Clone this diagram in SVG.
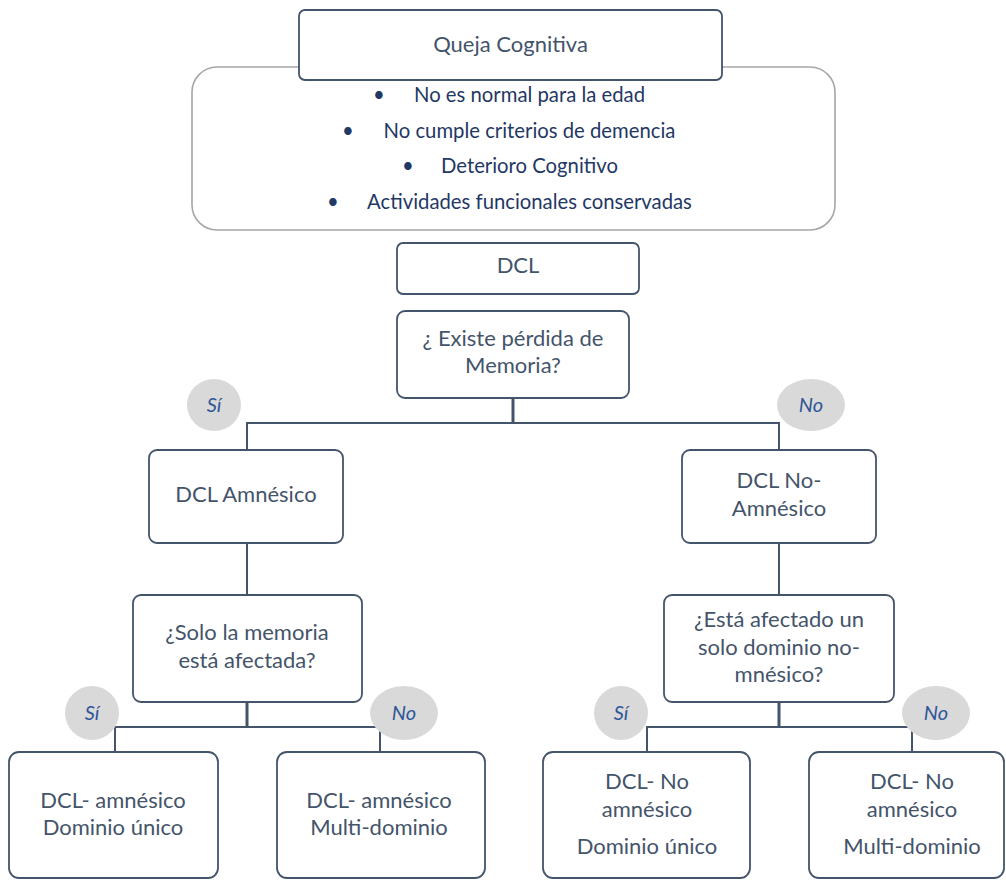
<svg xmlns="http://www.w3.org/2000/svg" width="1006" height="880" viewBox="0 0 1006 880">
<style>
.box{fill:#fff;stroke:#44546A;stroke-width:1.8}
.big{fill:#fff;stroke:#A6A6A6;stroke-width:1.6}
.t{font-family:Lato,"Liberation Sans",sans-serif;font-size:22px;fill:#44546A;text-anchor:middle}
.b{font-family:Lato,"Liberation Sans",sans-serif;font-size:20.3px;fill:#1F3864;text-anchor:middle}
.lab{fill:#D9D9D9}
.lt{font-family:Lato,"Liberation Sans",sans-serif;font-size:20px;font-style:italic;fill:#2F5597;text-anchor:middle}
.c{fill:none;stroke:#44546A;stroke-width:2}
.s{fill:none;stroke:#44546A;stroke-width:3}
</style>
<g id="criterios">
<rect class="big" x="192" y="67" width="643" height="163" rx="25"/>
<text class="b" x="379" y="102">•</text><text class="b" x="529.5" y="102">No es normal para la edad</text>
<text class="b" x="348" y="138">•</text><text class="b" x="529.5" y="138">No cumple criterios de demencia</text>
<text class="b" x="408" y="173">•</text><text class="b" x="529.5" y="173">Deterioro Cognitivo</text>
<text class="b" x="333" y="209">•</text><text class="b" x="529.5" y="209">Actividades funcionales conservadas</text>
</g>
<g id="queja">
<rect class="box" x="299" y="10" width="423" height="70" rx="6"/>
<text class="t" x="510.5" y="52">Queja Cognitiva</text>
</g>
<g id="dcl">
<rect class="box" x="397" y="243" width="242" height="51" rx="6"/>
<text class="t" x="518" y="273">DCL</text>
</g>
<g id="pregunta1">
<rect class="box" x="397" y="311" width="232" height="87" rx="8"/>
<text class="t" x="513" y="346">¿ Existe pérdida de</text>
<text class="t" x="513" y="373">Memoria?</text>
</g>
<g id="amnesico">
<rect class="box" x="149" y="450" width="194" height="93" rx="8"/>
<text class="t" x="246" y="502">DCL Amnésico</text>
</g>
<g id="noamnesico">
<rect class="box" x="682" y="450" width="194" height="93" rx="8"/>
<text class="t" x="779" y="488">DCL No-</text>
<text class="t" x="779" y="516">Amnésico</text>
</g>
<g id="pregunta2">
<rect class="box" x="133" y="595" width="229" height="107" rx="8"/>
<text class="t" x="247" y="640">¿Solo la memoria</text>
<text class="t" x="247" y="668">está afectada?</text>
</g>
<g id="pregunta3">
<rect class="box" x="664" y="595" width="230" height="107" rx="8"/>
<text class="t" x="779" y="627">¿Está afectado un</text>
<text class="t" x="779" y="655">solo dominio no-</text>
<text class="t" x="779" y="682">mnésico?</text>
</g>
<g id="amn-unico">
<rect class="box" x="9" y="752" width="209" height="126" rx="10"/>
<text class="t" x="113" y="808">DCL- amnésico</text>
<text class="t" x="113" y="835">Dominio único</text>
</g>
<g id="amn-multi">
<rect class="box" x="277" y="752" width="208" height="126" rx="10"/>
<text class="t" x="379" y="808">DCL- amnésico</text>
<text class="t" x="379" y="835">Multi-dominio</text>
</g>
<g id="noamn-unico">
<rect class="box" x="543" y="752" width="207" height="126" rx="10"/>
<text class="t" x="647" y="789">DCL- No</text>
<text class="t" x="647" y="817">amnésico</text>
<text class="t" x="647" y="854">Dominio único</text>
</g>
<g id="noamn-multi">
<rect class="box" x="809" y="752" width="195" height="126" rx="10"/>
<text class="t" x="912" y="789">DCL- No</text>
<text class="t" x="912" y="817">amnésico</text>
<text class="t" x="912" y="854">Multi-dominio</text>
</g>
<g id="connectors">
<path class="s" d="M513 398V423"/>
<path class="c" d="M247 450V423H779V450"/>
<path class="c" d="M247 543V595M779 543V595"/>
<path class="s" d="M247 702V727M779 702V727"/>
<path class="c" d="M115 752V727H380V752M647 752V727H912V752"/>
</g>
<g id="labels">
<ellipse class="lab" cx="214" cy="405" rx="27" ry="26"/><text class="lt" x="214" y="412">Sí</text>
<ellipse class="lab" cx="811" cy="405" rx="34" ry="26"/><text class="lt" x="811" y="412">No</text>
<ellipse class="lab" cx="92" cy="713" rx="27" ry="27"/><text class="lt" x="92" y="720">Sí</text>
<ellipse class="lab" cx="404" cy="713" rx="34" ry="27"/><text class="lt" x="404" y="720">No</text>
<ellipse class="lab" cx="621" cy="713" rx="27" ry="27"/><text class="lt" x="621" y="720">Sí</text>
<ellipse class="lab" cx="936" cy="713" rx="34" ry="27"/><text class="lt" x="936" y="720">No</text>
</g>
</svg>
